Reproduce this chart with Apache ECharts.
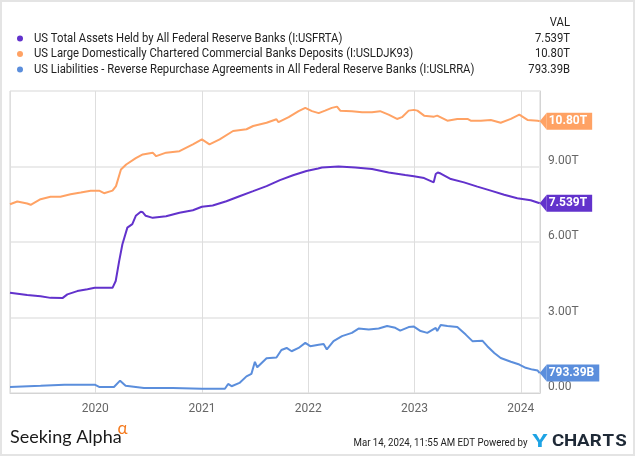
<!DOCTYPE html>
<html>
<head>
<meta charset="utf-8">
<script src="https://cdn.jsdelivr.net/npm/echarts@6/dist/echarts.min.js"></script>
<style>
html,body{margin:0;padding:0;background:#fff;}
#wrap{position:relative;width:635px;height:456px;}
#chart{position:absolute;left:0;top:0;width:635px;height:456px;}
#frame{position:absolute;left:0;top:0;width:635px;height:456px;box-sizing:border-box;border:2px solid #e4e4e4;pointer-events:none;}
</style>
</head>
<body>
<div id="wrap"><div id="chart"></div><div id="frame"></div></div>
<script>
// ---- data (values in trillions of USD) ----
const seriesNames = [
  'US Total Assets Held by All Federal Reserve Banks (I:USFRTA)',
  'US Large Domestically Chartered Commercial Banks Deposits (I:USLDJK93)',
  'US Liabilities - Reverse Repurchase Agreements in All Federal Reserve Banks (I:USLRRA)'
];
const latestLabels = ['7.539T', '10.80T', '793.39B'];
const seriesColors = ['#6232CC', '#FFA264', '#5B8EDC'];

const assetsDates = ['2019-03-14','2019-05-12','2019-06-27','2019-07-31','2019-09-10','2019-09-27','2019-10-31','2019-12-05','2019-12-30','2020-02-11','2020-02-29','2020-03-11','2020-03-23','2020-04-03','2020-04-20','2020-05-07','2020-05-19','2020-06-05','2020-06-12','2020-06-22','2020-07-16','2020-08-31','2020-10-16','2020-12-01','2021-01-01','2021-02-07','2021-03-26','2021-05-10','2021-06-26','2021-08-11','2021-09-26','2021-11-10','2021-12-26','2022-02-04','2022-02-17','2022-04-15','2022-06-12','2022-08-08','2022-10-04','2022-11-30','2022-12-30','2023-02-03','2023-03-08','2023-03-15','2023-03-22','2023-04-01','2023-05-06','2023-06-20','2023-08-05','2023-09-20','2023-11-05','2023-12-20','2024-02-04','2024-03-06'];
const assetsValues = [3.98,3.89,3.84,3.78,3.77,3.92,4.05,4.12,4.18,4.18,4.18,4.45,5.25,5.91,6.57,6.71,7.04,7.20,7.18,7.04,6.96,7.02,7.16,7.26,7.40,7.45,7.62,7.82,8.02,8.22,8.46,8.65,8.82,8.92,8.96,9.00,8.96,8.90,8.76,8.66,8.61,8.54,8.37,8.70,8.76,8.72,8.50,8.37,8.20,8.04,7.88,7.74,7.66,7.539];

const depositsDates = ['2019-03-14','2019-04-08','2019-05-12','2019-05-24','2019-06-27','2019-07-31','2019-09-03','2019-10-08','2019-11-12','2019-12-16','2020-01-14','2020-01-31','2020-02-29','2020-03-12','2020-03-29','2020-04-16','2020-05-19','2020-06-12','2020-07-16','2020-07-28','2020-08-31','2020-10-16','2020-12-01','2021-01-01','2021-01-27','2021-03-03','2021-04-18','2021-06-03','2021-06-26','2021-08-11','2021-09-14','2021-09-21','2021-10-26','2021-11-29','2021-12-22','2022-01-14','2022-02-06','2022-02-28','2022-03-23','2022-04-10','2022-04-21','2022-05-31','2022-07-05','2022-08-08','2022-09-05','2022-10-04','2022-11-02','2022-11-19','2022-12-12','2022-12-30','2023-01-11','2023-02-03','2023-03-09','2023-03-20','2023-04-24','2023-05-28','2023-07-02','2023-07-13','2023-08-17','2023-09-20','2023-10-24','2023-11-28','2023-12-27','2024-01-24','2024-02-28','2024-03-06'];
const depositsValues = [7.50,7.61,7.53,7.48,7.70,7.80,7.80,7.90,7.97,8.04,8.04,7.94,8.04,8.22,8.88,9.08,9.33,9.48,9.55,9.41,9.55,9.61,9.88,10.08,9.88,10.08,10.41,10.48,10.61,10.74,10.88,10.76,10.96,11.20,11.33,11.20,11.12,11.22,11.33,11.38,11.22,11.20,11.16,11.16,11.20,11.06,10.89,10.96,11.22,11.25,11.22,11.02,10.98,11.02,10.82,10.89,10.89,10.82,10.82,10.85,10.74,10.89,11.06,10.85,10.82,10.80];

const rrpDates = ['2019-03-14','2019-06-27','2019-09-17','2019-12-30','2020-01-14','2020-03-05','2020-03-26','2020-04-14','2020-06-16','2020-09-23','2021-01-01','2021-03-21','2021-04-01','2021-04-13','2021-05-10','2021-06-03','2021-06-20','2021-07-02','2021-07-10','2021-08-11','2021-09-14','2021-10-01','2021-10-19','2021-11-05','2021-11-29','2021-12-22','2022-01-08','2022-02-06','2022-02-23','2022-03-06','2022-03-29','2022-04-27','2022-05-31','2022-06-23','2022-07-28','2022-08-31','2022-09-29','2022-10-27','2022-11-13','2022-12-12','2022-12-30','2023-01-22','2023-02-14','2023-03-15','2023-03-20','2023-04-01','2023-04-24','2023-05-28','2023-06-26','2023-07-19','2023-08-22','2023-09-08','2023-10-02','2023-10-24','2023-11-28','2023-12-27','2024-01-18','2024-02-10','2024-02-28','2024-03-06'];
const rrpValues = [0.24,0.29,0.33,0.33,0.24,0.24,0.49,0.29,0.20,0.20,0.17,0.17,0.36,0.27,0.40,0.66,0.76,1.24,1.02,1.38,1.41,1.71,1.79,1.66,1.79,1.99,1.86,1.92,1.95,1.73,2.06,2.26,2.39,2.56,2.52,2.56,2.66,2.59,2.48,2.62,2.64,2.46,2.39,2.59,2.46,2.70,2.66,2.62,2.32,2.06,2.08,1.86,1.59,1.39,1.24,1.13,1.00,0.93,0.89,0.79339];

const yTickValues = [0, 3, 6, 9];
const yTickLabels = ['0.00', '3.00T', '6.00T', '9.00T'];
const xRange = ['2019-03-14', '2024-03-07'];
const footerStamp = 'Mar 14, 2024, 11:55 AM EDT Powered by';

// ---- chart ----
const FONT = 'Roboto, "Noto Sans", sans-serif';
const chart = echarts.init(document.getElementById('chart'), null, {renderer: 'canvas'});

function pairs(d, v) { return d.map((x, i) => [x, v[i]]); }
const dataSets = [pairs(assetsDates, assetsValues), pairs(depositsDates, depositsValues), pairs(rrpDates, rrpValues)];

const series = dataSets.map((data, i) => {
  const last = data[data.length - 1];
  return {
    name: seriesNames[i],
    type: 'line',
    data: data,
    showSymbol: false,
    symbol: 'none',
    lineStyle: {color: seriesColors[i], width: 2},
    itemStyle: {color: seriesColors[i]},
    emphasis: {disabled: true},
    z: 3 - i,
    markPoint: {
      silent: true,
      animation: false,
      symbol: 'path://M0,5 L6,0 L6,10 Z',
      symbolSize: [7, 17],
      symbolOffset: [3.5, 0],
      symbolKeepAspect: false,
      itemStyle: {color: seriesColors[i]},
      label: {
        show: true,
        position: 'right',
        distance: 0,
        formatter: latestLabels[i],
        color: '#fff',
        fontFamily: FONT,
        fontWeight: 'bold',
        fontSize: 12,
        lineHeight: 12,
        backgroundColor: seriesColors[i],
        padding: [3, 5, 2, 2]
      },
      data: [{coord: last}]
    }
  };
});

const legendRowsY = [38.5, 54, 69.5];
const legendGraphics = [];
seriesNames.forEach((n, i) => {
  legendGraphics.push({type: 'circle', shape: {cx: 20, cy: legendRowsY[i], r: 3}, style: {fill: seriesColors[i]}, silent: true});
  legendGraphics.push({type: 'text', x: 34, y: legendRowsY[i], scaleX: 0.94, silent: true,
    style: {x: 0, y: 0, text: n, textAlign: 'left', textVerticalAlign: 'middle', fontFamily: FONT, fontSize: 12, fill: '#222'}});
  legendGraphics.push({type: 'text', x: 570, y: legendRowsY[i], scaleX: 0.94, silent: true,
    style: {x: 0, y: 0, text: latestLabels[i], textAlign: 'right', textVerticalAlign: 'middle', fontFamily: FONT, fontSize: 12, fill: '#222'}});
});

const logoLetters = 'CHARTS'.split('');

const option = {
  animation: false,
  backgroundColor: '#fff',
  textStyle: {fontFamily: FONT},
  grid: {left: 10, right: 95, top: 91, bottom: 63, show: true, borderColor: '#d4d4d4', borderWidth: 1, backgroundColor: 'transparent', containLabel: false},
  xAxis: {
    type: 'time',
    min: xRange[0],
    max: xRange[1],
    minInterval: 365 * 24 * 3600 * 1000,
    splitNumber: 5,
    axisLine: {show: true, lineStyle: {color: '#d4d4d4'}},
    axisTick: {show: false},
    splitLine: {show: true, lineStyle: {color: '#dedede', width: 1}},
    axisLabel: {
      color: '#666',
      fontFamily: FONT,
      fontSize: 12,
      margin: 10,
      showMinLabel: false,
      showMaxLabel: false,
      formatter: (v) => String(new Date(v).getFullYear())
    }
  },
  yAxis: {
    type: 'value',
    position: 'right',
    min: 0,
    max: 12,
    interval: 3,
    axisLine: {show: true, lineStyle: {color: '#d4d4d4'}},
    axisTick: {show: false},
    splitLine: {show: true, lineStyle: {color: '#ebebeb', width: 2}},
    axisLabel: {
      color: '#666',
      fontFamily: FONT,
      fontSize: 12,
      margin: 8,
      align: 'left',
      verticalAlign: 'bottom',
      showMaxLabel: false,
      formatter: (v) => { const k = yTickValues.indexOf(v); return k >= 0 ? yTickLabels[k] : ''; }
    }
  },
  graphic: [
    {type: 'text', x: 570, y: 23, scaleX: 0.94, silent: true, style: {x: 0, y: 0, text: 'VAL', textAlign: 'right', textVerticalAlign: 'middle', fontFamily: FONT, fontSize: 12, fill: '#222'}},
    ...legendGraphics,
    {type: 'text', x: 10, y: 437, silent: true, style: {x: 0, y: 0, text: 'Seeking Alpha', textAlign: 'left', textVerticalAlign: 'middle', fontFamily: 'Lato, "Open Sans", sans-serif', fontSize: 18, fontWeight: 400, fill: '#1a1a1a'}},
    {type: 'text', x: 122.5, y: 429, silent: true, style: {x: 0, y: 0, text: 'α', textAlign: 'center', textVerticalAlign: 'middle', fontFamily: 'Lato, "Open Sans", sans-serif', fontSize: 17, fill: '#F47B20'}},
    {type: 'text', x: 527.5, y: 443, scaleX: 0.84, silent: true, style: {x: 0, y: 0, text: footerStamp, textAlign: 'right', textVerticalAlign: 'middle', fontFamily: FONT, fontSize: 11.5, fill: '#222'}},
    {type: 'text', x: 540, y: 442, scaleX: 1.3, silent: true, style: {x: 0, y: 0, text: 'Y', textAlign: 'center', textVerticalAlign: 'middle', fontFamily: FONT, fontSize: 19, fontWeight: 'bold', fill: '#1EA3E4'}},
    ...logoLetters.map((c, i) => ({type: 'text', x: 558 + i * 12.6, y: 442, scaleX: 1.1, silent: true, style: {x: 0, y: 0, text: c, textAlign: 'center', textVerticalAlign: 'middle', fontFamily: FONT, fontSize: 17, fontWeight: 'bold', fill: '#1F2A37'}}))
  ],
  series: series
};
chart.setOption(option);
</script>
</body>
</html>
